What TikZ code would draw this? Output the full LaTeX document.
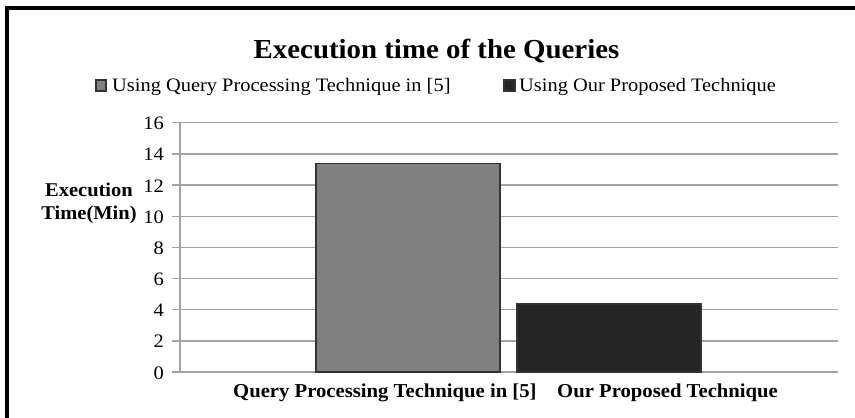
\documentclass[tikz,border=0pt]{standalone}
\usepackage{fontspec}
\setmainfont{Liberation Serif}[FakeStretch=1.075,BoldFeatures={FakeStretch=1.05}]
\begin{document}
\begin{tikzpicture}[x=1pt,y=-1pt,
  grid line/.style={draw=black!36,line width=1.4pt},
  bar/.style={draw=black!80,line width=1.1pt},
  tick label/.style={anchor=base east,inner sep=0pt,font=\fontsize{19}{22}\selectfont},
  legend text/.style={anchor=base west,inner sep=0pt,font=\fontsize{19}{22}\selectfont},
  cat label/.style={anchor=base west,inner sep=0pt,font=\fontsize{19.7}{22}\selectfont\bfseries}]
\useasboundingbox (0,0) rectangle (855,418);
\fill[white] (0,0) rectangle (855,418);
% frame (top and left edges)
\draw[line width=4pt] (7,418) -- (7,8) -- (855,8);
% title
\node[anchor=base,inner sep=0pt,font=\fontsize{27.5}{30}\selectfont\bfseries] (title) at (436.5,58) {Execution time of the Queries};
% legend
\draw[bar,fill=black!50] (96,80) rectangle (106,91);
\node[legend text] (leg1) at (112,91) {Using Query Processing Technique in [5]};
\draw[bar,fill=black!85] (504,80) rectangle (515,91);
\node[legend text] (leg2) at (519,91) {Using Our Proposed Technique};
% grid, ticks and tick labels
\foreach \v in {0,2,...,16}{
  \pgfmathsetmacro{\yy}{372-\v*15.58}
  \draw[grid line] (172,\yy) -- (838,\yy);
  \node[tick label] (t\v) at (164,\yy+7) {\v};
}
\draw[grid line] (180,122.7) -- (180,372);
% bars
\draw[bar,fill=black!50] (316,372) rectangle (500,163.3);
\draw[bar,fill=black!85] (517,372) rectangle (701,304);
% axis title
\node[align=center,inner sep=0pt,font=\fontsize{19.5}{23}\selectfont\bfseries,anchor=base] (ytitle) at (89,219) {Execution\\Time(Min)};
% category labels
\node[cat label] (c1) at (233,397) {Query Processing Technique in [5]};
\node[cat label] (c2) at (557,397) {Our Proposed Technique};
\end{tikzpicture}
\end{document}
